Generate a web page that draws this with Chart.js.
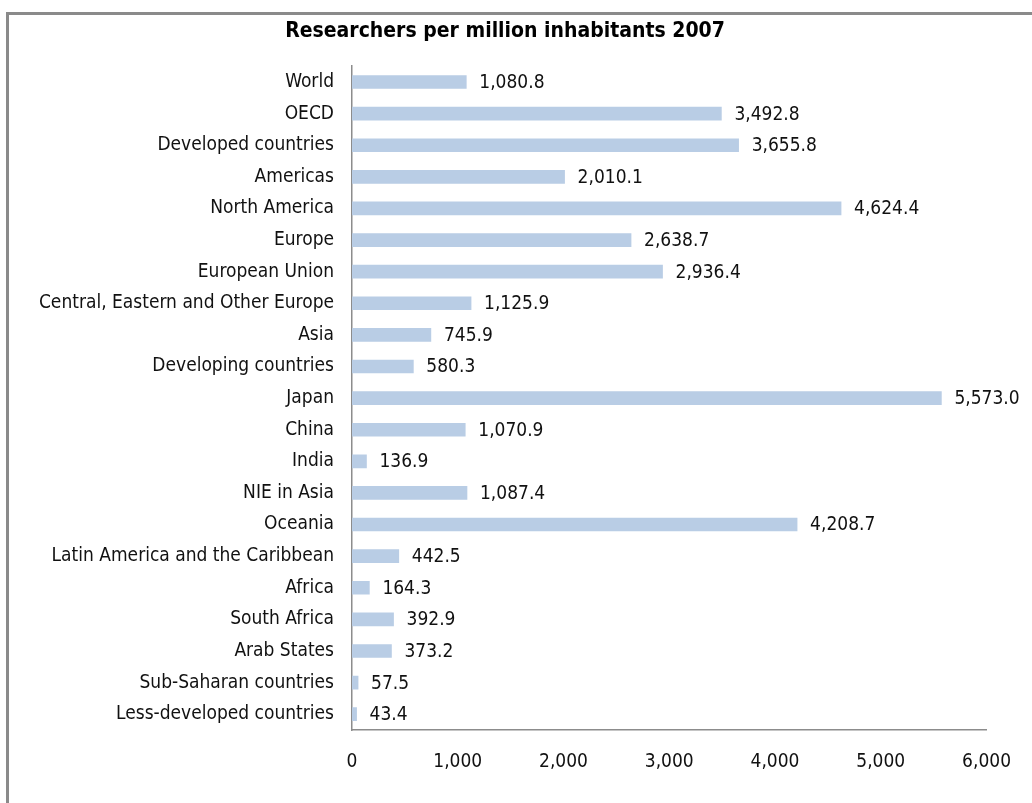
<!DOCTYPE html>
<html>
<head>
    <meta charset="UTF-8">
    <title>Researchers per million inhabitants 2007</title>
    <script src="https://cdn.jsdelivr.net/npm/chart.js@4.4.1/dist/chart.umd.min.js"></script>
    <style>
        html, body { margin: 0; padding: 0; background: #fff; }
        .wrap { position: relative; width: 1032px; height: 803px; overflow: hidden; }
        .frame {
            position: absolute; left: 6px; top: 12px; width: 1040px; height: 820px;
            border-left: 3px solid #8a8a8a; border-top: 3px solid #8a8a8a;
        }
        canvas { position: absolute; left: 0; top: 0; }
    </style>
</head>
<body>
<div class="wrap">
    <div class="frame"></div>
    <canvas id="myChart" width="1032" height="803"></canvas>
</div>
<script>
    var regions = ['World', 'OECD', 'Developed countries', 'Americas', 'North America', 'Europe',
        'European Union', 'Central, Eastern and Other Europe', 'Asia', 'Developing countries',
        'Japan', 'China', 'India', 'NIE in Asia', 'Oceania', 'Latin America and the Caribbean',
        'Africa', 'South Africa', 'Arab States', 'Sub-Saharan countries', 'Less-developed countries'];
    var researchers = [1080.8, 3492.8, 3655.8, 2010.1, 4624.4, 2638.7, 2936.4, 1125.9, 745.9, 580.3,
        5573.0, 1070.9, 136.9, 1087.4, 4208.7, 442.5, 164.3, 392.9, 373.2, 57.5, 43.4];
    var xTicks = [0, 1000, 2000, 3000, 4000, 5000, 6000];

    var FONT = "'DejaVu Sans Condensed', sans-serif";

    function fmt(v, dec) {
        return v.toLocaleString('en-US', { minimumFractionDigits: dec, maximumFractionDigits: dec });
    }

    // value labels at the end of each bar
    var valueLabels = {
        id: 'valueLabels',
        afterDatasetsDraw: function(chart) {
            var ctx = chart.ctx;
            var meta = chart.getDatasetMeta(0);
            ctx.save();
            ctx.font = '19px ' + FONT;
            ctx.fillStyle = '#111';
            ctx.textAlign = 'left';
            ctx.textBaseline = 'middle';
            meta.data.forEach(function(bar, i) {
                ctx.fillText(fmt(researchers[i], 1), bar.x + 13, bar.y + 1);
            });
            ctx.restore();
        }
    };

    new Chart('myChart', {
        type: 'bar',
        data: {
            labels: regions,
            datasets: [{
                data: researchers,
                backgroundColor: '#b9cde5',
                borderWidth: 0,
                barThickness: 13
            }]
        },
        options: {
            indexAxis: 'y',
            responsive: false,
            animation: false,
            layout: { padding: { left: 10, right: 32, top: 0, bottom: 0 } },
            plugins: {
                legend: { display: false },
                tooltip: { enabled: false },
                title: {
                    display: true,
                    text: 'Researchers per million inhabitants 2007',
                    color: '#000',
                    font: { family: FONT, size: 21, weight: 'bold' },
                    padding: { top: 19, bottom: 22 }
                }
            },
            scales: {
                x: {
                    min: 0,
                    max: 6000,
                    afterBuildTicks: function(scale) {
                        scale.ticks = xTicks.map(function(v) { return { value: v }; });
                    },
                    afterFit: function(scale) { scale.height = 73; },
                    grid: { display: false, drawTicks: false },
                    border: { display: true, color: '#8c8c8c', width: 1.5 },
                    ticks: {
                        padding: 21,
                        color: '#111',
                        font: { family: FONT, size: 19 },
                        maxRotation: 0,
                        callback: function(v) { return fmt(v, 0); }
                    }
                },
                y: {
                    afterFit: function(scale) { scale.width = 342; },
                    grid: { display: false, drawTicks: false },
                    border: { display: true, color: '#8c8c8c', width: 1.5 },
                    ticks: {
                        padding: 18,
                        color: '#111',
                        font: { family: FONT, size: 19 },
                        autoSkip: false
                    }
                }
            }
        },
        plugins: [valueLabels]
    });
</script>
</body>
</html>
